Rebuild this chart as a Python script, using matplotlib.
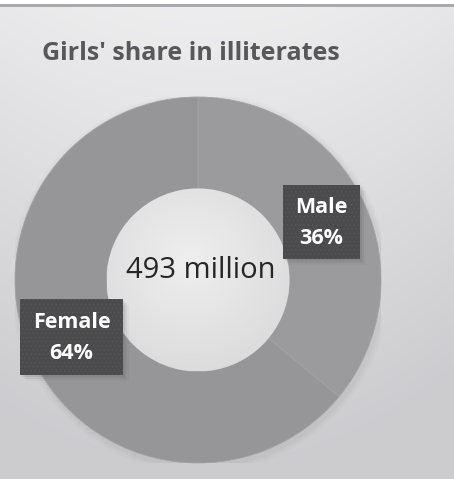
import numpy as np
import matplotlib
matplotlib.use("Agg")
import matplotlib.pyplot as plt
from matplotlib.patches import Circle, Rectangle

# ---- data ----
title = "Girls' share in illiterates"
categories = ["Male", "Female"]
shares = [36, 64]
total_label = "493 million"

plt.rcParams["hatch.linewidth"] = 0.4
W, H = 454, 479
fig = plt.figure(figsize=(W / 100, H / 100), dpi=100)
fig.patch.set_facecolor("white")

# background gradient
bg = fig.add_axes([0, 0, 1, 1 - 6 / H])
bg.set_axis_off()
yy, xx = np.mgrid[0:1:300j, 0:1:300j]
top = np.array([0.93, 0.93, 0.935])
bot = np.array([0.80, 0.80, 0.815])
t = np.clip(yy * 1.0 + 0.35 * ((xx - 0.45) ** 2) * 2, 0, 1)
img = top[None, None, :] * (1 - t[..., None]) + bot[None, None, :] * t[..., None]
bg.imshow(img, extent=[0, 1, 0, 1], aspect="auto", origin="upper")
bg.set_xlim(0, 1)
bg.set_ylim(0, 1)

# top border line
fig.add_artist(Rectangle((0, 1 - 6.5 / H), 1, 2.5 / H, transform=fig.transFigure,
                         facecolor="#a9a9ab", edgecolor="none"))

# donut axes: center (198, 280), radius 183 px
cx, cy, R = 198, 280, 183
ax = fig.add_axes([(cx - R) / W, (H - cy - R) / H, 2 * R / W, 2 * R / H])
ax.set_axis_off()
colors = ["#9b9b9d", "#969699"]
for i, a in enumerate([0.05, 0.04, 0.03]):
    ax.add_patch(Circle((0.01, -0.015), 1.0 + 0.012 * (i + 1), facecolor="#707070",
                        edgecolor="none", alpha=a, zorder=0))
ax.pie(shares, startangle=90, counterclock=False, colors=colors,
       wedgeprops=dict(width=0.5, edgecolor="#a3a3a5", linewidth=0.6),
       radius=1.0)

# inner hole with soft radial gradient
n = 200
gy, gx = np.mgrid[-1:1:complex(n), -1:1:complex(n)]
rr = np.sqrt((gx + 0.1) ** 2 + (gy - 0.2) ** 2)
hole = np.clip(0.935 - 0.06 * rr, 0.85, 0.935)
himg = np.dstack([hole, hole, hole + 0.005])
hole_r = 0.5
im = ax.imshow(np.clip(himg, 0, 1), extent=[-hole_r, hole_r, -hole_r, hole_r],
               origin="lower", zorder=3)
clip = Circle((0, 0), hole_r, transform=ax.transData)
im.set_clip_path(clip)
ax.set_xlim(-1, 1)
ax.set_ylim(-1, 1)
ax.set_aspect("auto")

fam = ["Open Sans", "DejaVu Sans"]

def px(x, y):
    return x / W, 1 - y / H

fig.text(*px(42, 54), title, fontsize=18, fontweight="bold", color="#58585a",
         family=fam, ha="left", va="center")

fig.text(*px(201, 270), total_label, fontsize=21, color="#262626", family=fam,
         ha="center", va="center", zorder=10)

# label boxes
boxes = {"Male": (283, 185, 77, 74), "Female": (20, 299, 103, 76)}
for cat, val in zip(categories, shares):
    x0, y0, bw, bh = boxes[cat]
    for k, a in enumerate([0.10, 0.07, 0.04]):
        off = 2 + k * 2
        fig.add_artist(Rectangle(((x0 + off) / W, 1 - (y0 + bh + off) / H), bw / W, bh / H,
                                 transform=fig.transFigure, facecolor="#404040",
                                 edgecolor="none", alpha=a, zorder=8))
    fig.add_artist(Rectangle((x0 / W, 1 - (y0 + bh) / H), bw / W, bh / H,
                             transform=fig.transFigure, facecolor="#4b4b4d",
                             edgecolor="#58585a", linewidth=0, hatch="....",
                             zorder=9))
    fig.text(*px(x0 + bw / 2, y0 + bh / 2 + 1), f"{cat}\n{val}%", fontsize=15.5,
             fontweight="bold", color="white", family=fam, ha="center",
             va="center", linespacing=1.65, zorder=11)

fig.savefig("out.png", dpi=100)
